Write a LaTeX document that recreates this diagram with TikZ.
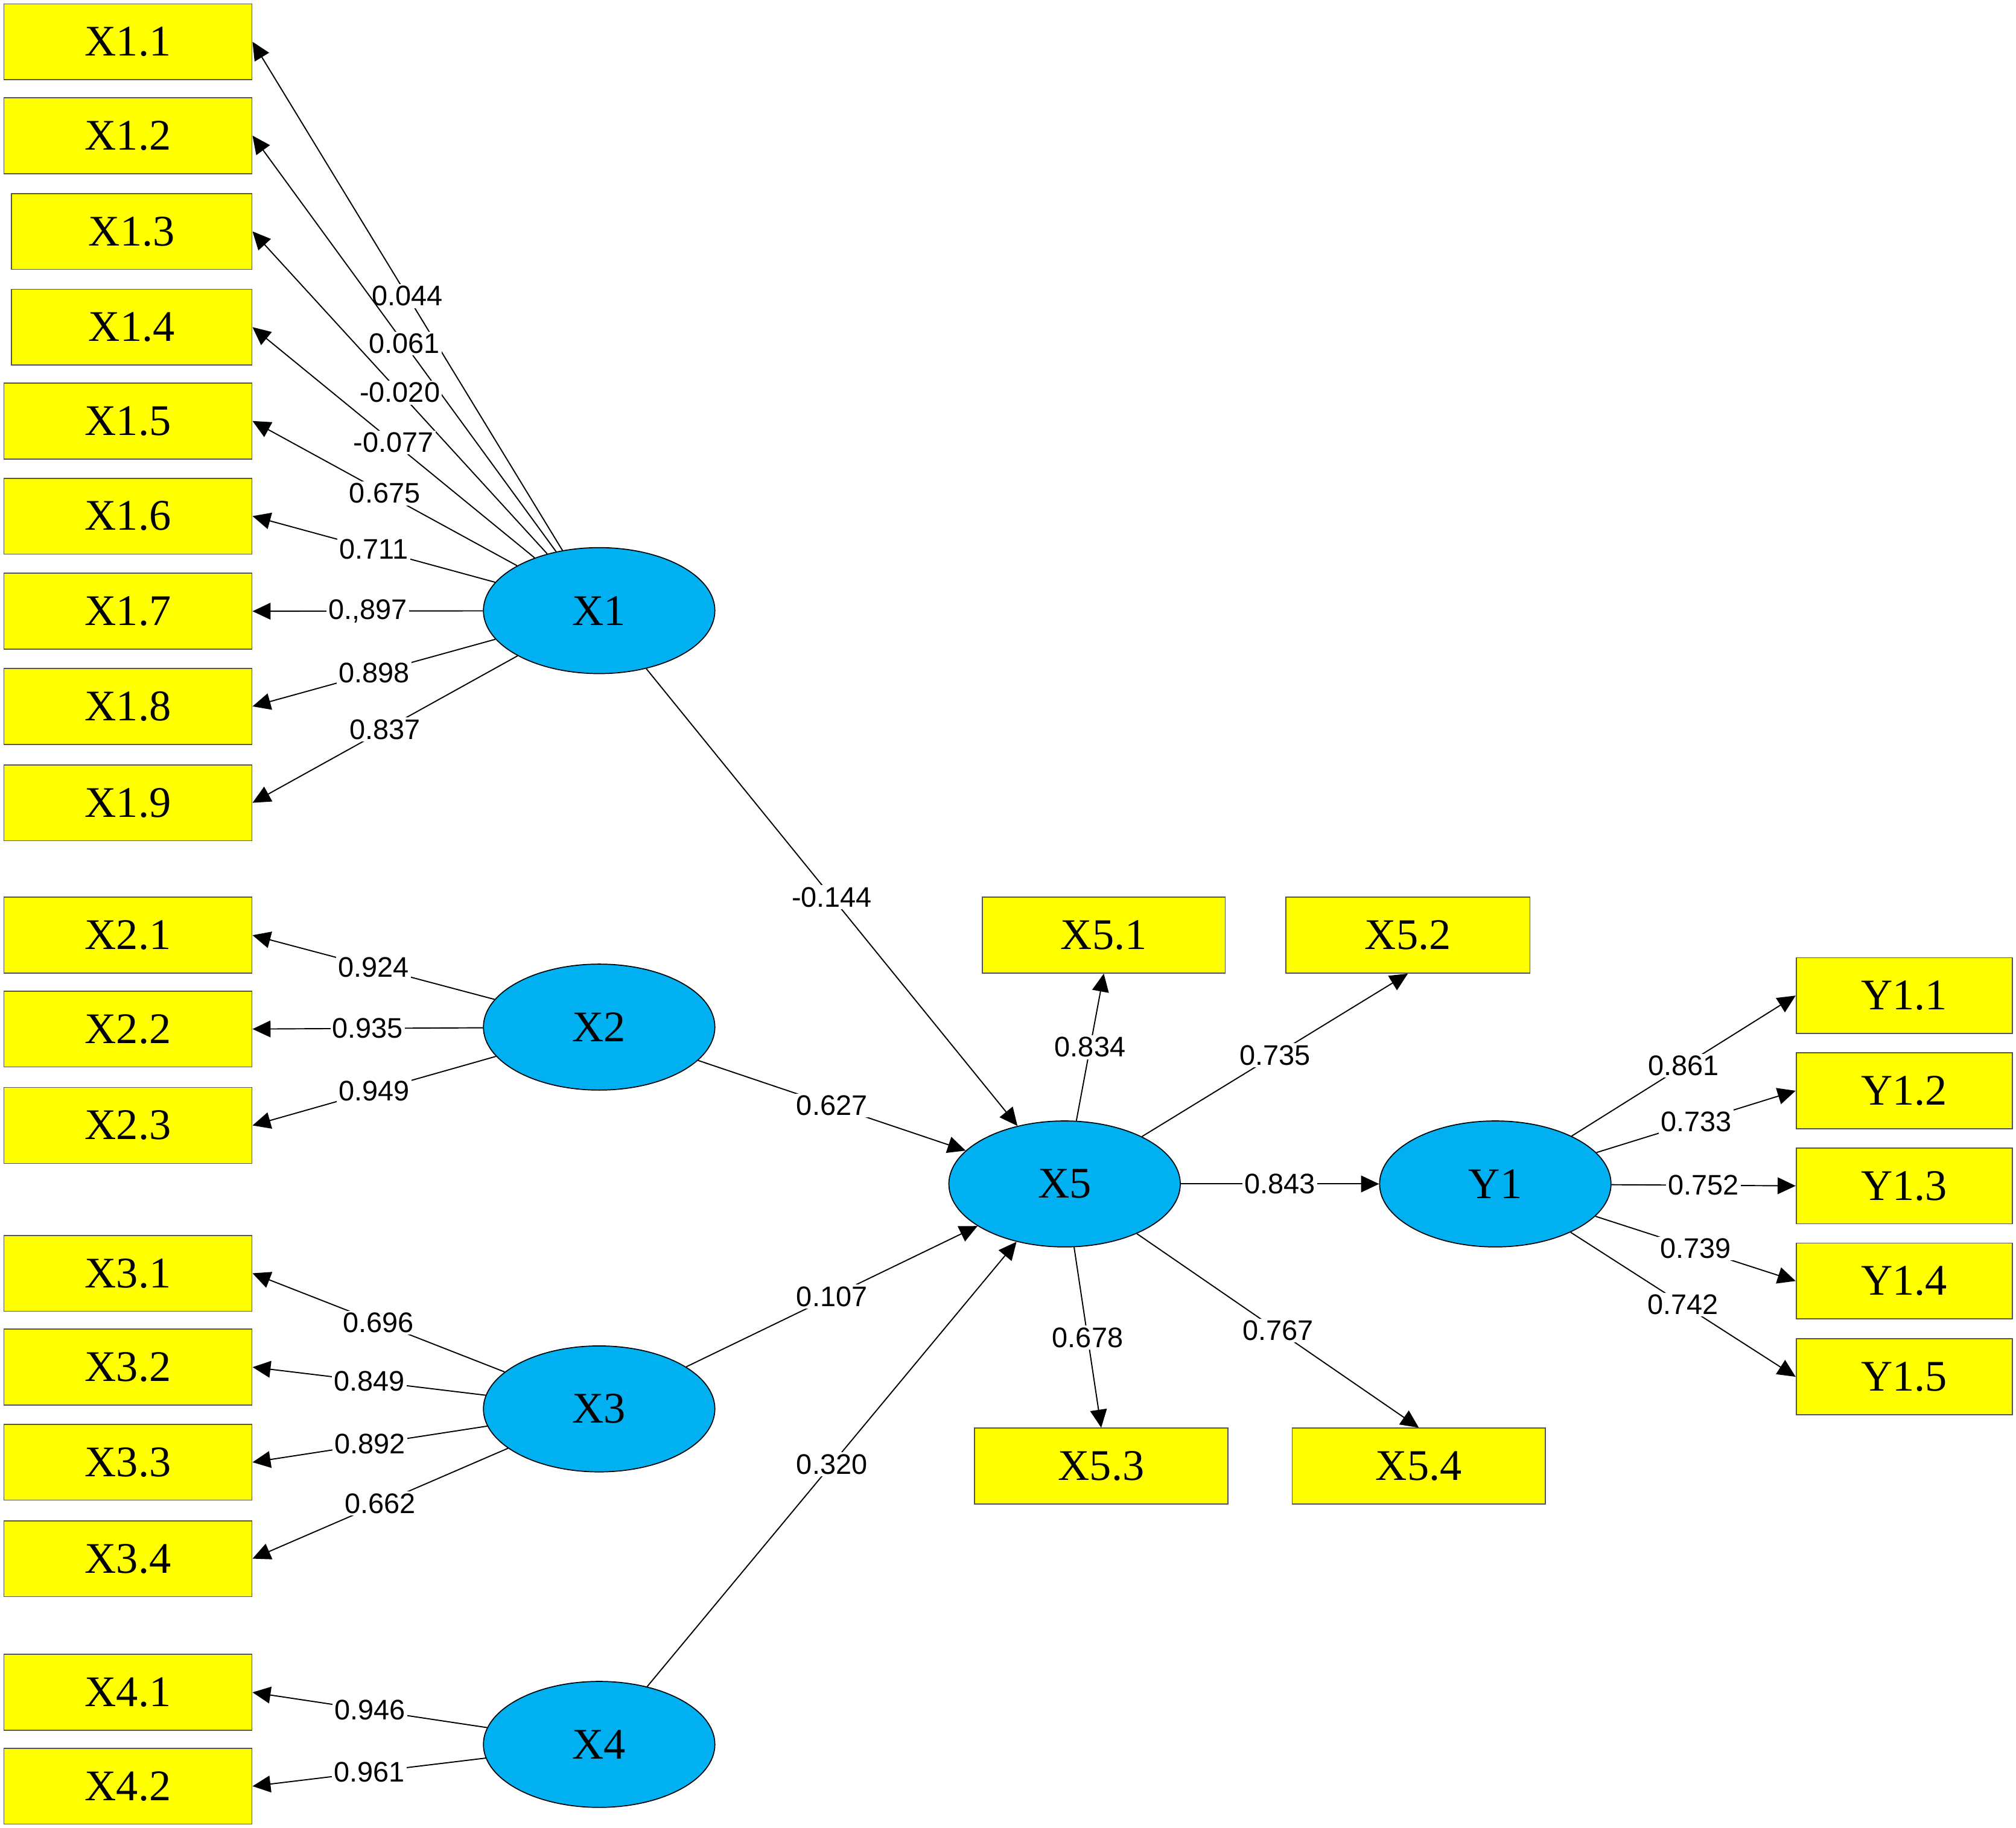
\documentclass[tikz,border=0pt]{standalone}
\usepackage{fontspec}
\setmainfont{Liberation Serif}
\newfontfamily\numfont{Liberation Sans}
\usetikzlibrary{positioning}
\usetikzlibrary{shapes.geometric}
\usetikzlibrary{arrows.meta}
\definecolor{boxyellow}{RGB}{255,255,0}
\definecolor{boxgray}{RGB}{85,85,85}
\definecolor{latblue}{RGB}{0,176,240}
\tikzset{indbox/.style = {draw=boxgray, fill=boxyellow, line width=0.8pt, minimum width=193, minimum height=59, inner sep=0, font=\fontsize{34}{36}\selectfont}}
\tikzset{latent/.style = {ellipse, draw, fill=latblue, line width=0.8pt, minimum width=180, minimum height=98, inner sep=0, font=\fontsize{34}{36}\selectfont}}
\tikzset{loadarrow/.style = {line width=0.9pt, -{Triangle[length=14pt,width=13pt]}}}
\tikzset{coef/.style = {fill=white, inner sep=1.5pt, font=\numfont\fontsize{22}{24}\selectfont}}

\begin{document}
\begin{tikzpicture}[x=1pt,y=-1pt]
      \useasboundingbox (0,0) rectangle (1568,1422);

      % indicators of X1 .. X4
      \node[indbox] (x11) at (99.5,32.5) {X1.1};
      \node[indbox] (x12) at (99.5,105.5) {X1.2};
      \node[indbox, minimum width=187] (x13) at (102.5,180) {X1.3};
      \node[indbox, minimum width=187] (x14) at (102.5,254.5) {X1.4};
      \node[indbox] (x15) at (99.5,327.5) {X1.5};
      \node[indbox] (x16) at (99.5,401.5) {X1.6};
      \node[indbox] (x17) at (99.5,475.5) {X1.7};
      \node[indbox] (x18) at (99.5,549.5) {X1.8};
      \node[indbox] (x19) at (99.5,624.5) {X1.9};

      \node[indbox] (x21) at (99.5,727.5) {X2.1};
      \node[indbox] (x22) at (99.5,800.5) {X2.2};
      \node[indbox] (x23) at (99.5,875.5) {X2.3};

      \node[indbox] (x31) at (99.5,990.5) {X3.1};
      \node[indbox] (x32) at (99.5,1063.5) {X3.2};
      \node[indbox] (x33) at (99.5,1137.5) {X3.3};
      \node[indbox] (x34) at (99.5,1212.5) {X3.4};

      \node[indbox] (x41) at (99.5,1316.5) {X4.1};
      \node[indbox] (x42) at (99.5,1389.5) {X4.2};

      % indicators of X5 and Y1
      \node[indbox, minimum width=189] (x51) at (858.5,727.5) {X5.1};
      \node[indbox, minimum width=190] (x52) at (1095,727.5) {X5.2};
      \node[indbox, minimum width=197] (x53) at (856.5,1140.5) {X5.3};
      \node[indbox, minimum width=197] (x54) at (1103.5,1140.5) {X5.4};

      \node[indbox, minimum width=168] (y11) at (1481,774.5) {Y1.1};
      \node[indbox, minimum width=168] (y12) at (1481,848.5) {Y1.2};
      \node[indbox, minimum width=168] (y13) at (1481,922.5) {Y1.3};
      \node[indbox, minimum width=168] (y14) at (1481,996.5) {Y1.4};
      \node[indbox, minimum width=168] (y15) at (1481,1071) {Y1.5};

      % latent variables
      \node[latent] (x1) at (466,475) {X1};
      \node[latent] (x2) at (466,799) {X2};
      \node[latent] (x3) at (466,1096) {X3};
      \node[latent] (x4) at (466,1357) {X4};
      \node[latent] (x5) at (828,921) {X5};
      \node[latent] (y1) at (1163,921) {Y1};

      % loadings
      \draw[loadarrow] (x1) -- node[coef] {0.044} (x11.east);
      \draw[loadarrow] (x1) -- node[coef] {0.061} (x12.east);
      \draw[loadarrow] (x1) -- node[coef] {-0.020} (x13.east);
      \draw[loadarrow] (x1) -- node[coef] {-0.077} (x14.east);
      \draw[loadarrow] (x1) -- node[coef] {0.675} (x15.east);
      \draw[loadarrow] (x1) -- node[coef] {0.711} (x16.east);
      \draw[loadarrow] (x1) -- node[coef] {0.,897} (x17.east);
      \draw[loadarrow] (x1) -- node[coef] {0.898} (x18.east);
      \draw[loadarrow] (x1) -- node[coef] {0.837} (x19.east);

      \draw[loadarrow] (x2) -- node[coef] {0.924} (x21.east);
      \draw[loadarrow] (x2) -- node[coef] {0.935} (x22.east);
      \draw[loadarrow] (x2) -- node[coef] {0.949} (x23.east);

      \draw[loadarrow] (x3) -- node[coef] {0.696} (x31.east);
      \draw[loadarrow] (x3) -- node[coef] {0.849} (x32.east);
      \draw[loadarrow] (x3) -- node[coef] {0.892} (x33.east);
      \draw[loadarrow] (x3) -- node[coef] {0.662} (x34.east);

      \draw[loadarrow] (x4) -- node[coef] {0.946} (x41.east);
      \draw[loadarrow] (x4) -- node[coef] {0.961} (x42.east);

      \draw[loadarrow] (x5) -- node[coef] {0.834} (x51.south);
      \draw[loadarrow] (x5) -- node[coef] {0.735} (x52.south);
      \draw[loadarrow] (x5) -- node[coef] {0.678} (x53.north);
      \draw[loadarrow] (x5) -- node[coef] {0.767} (x54.north);

      \draw[loadarrow] (y1) -- node[coef] {0.861} (y11.west);
      \draw[loadarrow] (y1) -- node[coef] {0.733} (y12.west);
      \draw[loadarrow] (y1) -- node[coef] {0.752} (y13.west);
      \draw[loadarrow] (y1) -- node[coef] {0.739} (y14.west);
      \draw[loadarrow] (y1) -- node[coef] {0.742} (y15.west);

      % paths
      \draw[loadarrow] (x1) -- node[coef] {-0.144} (x5);
      \draw[loadarrow] (x2) -- node[coef] {0.627} (x5);
      \draw[loadarrow] (x3) -- node[coef] {0.107} (x5);
      \draw[loadarrow] (x4) -- node[coef] {0.320} (x5);
      \draw[loadarrow] (x5) -- node[coef] {0.843} (y1);
\end{tikzpicture}
\end{document}
